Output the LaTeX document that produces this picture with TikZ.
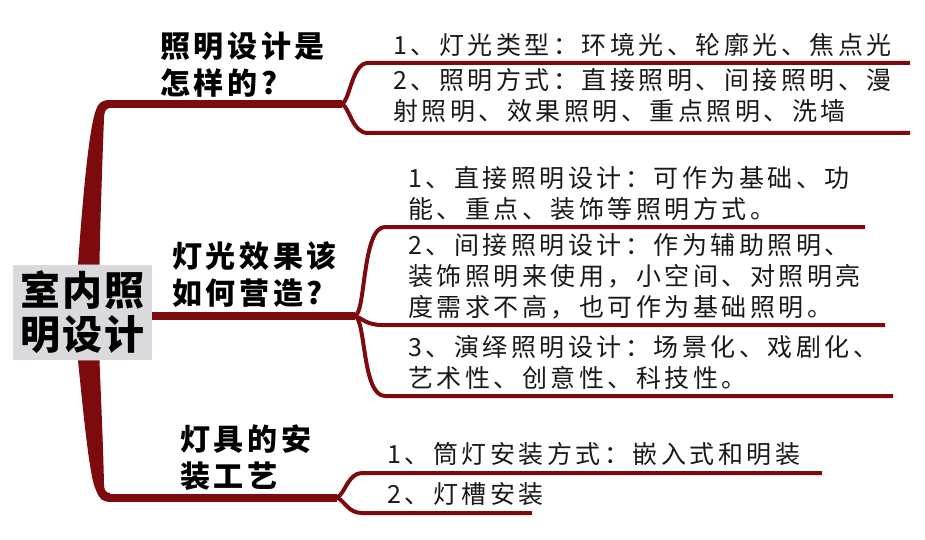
\documentclass[tikz,border=0pt]{standalone}
\usepackage{fontspec}
\setmainfont{Noto Sans CJK SC}
\newfontfamily\leaffont[LetterSpace=14]{Noto Sans CJK SC}
\newfontfamily\branchfont[LetterSpace=12]{Noto Sans CJK SC}
\newfontfamily\rootfont[LetterSpace=5]{Noto Sans CJK SC}
\definecolor{branchred}{RGB}{125,10,12}
\definecolor{rootgray}{RGB}{217,217,222}

\begin{document}
\begin{tikzpicture}[x=1pt,y=-1pt,thick,
  root node/.style={fill=rootgray,inner sep=0pt,minimum width=139pt,minimum height=95pt,align=center,font=\rootfont\bfseries\fontsize{40}{44}\selectfont},
  branch node/.style={anchor=base west,inner sep=0pt,align=left,font=\branchfont\bfseries\fontsize{30}{37}\selectfont},
  leaf node/.style={anchor=base west,inner sep=0pt,align=left,text=black!90,font=\leaffont\fontsize{25}{31}\selectfont},
  main line/.style={draw=branchred,line width=8pt},
  leaf line/.style={draw=branchred,line width=4pt}]

                \useasboundingbox (0,0) rectangle (925,540);

                \node[root node] (root) at (82.5,312.5) {室内照\\明设计};

                % multi-line nodes sit on their last baseline
                \node[branch node] (b1) at (160,95) {照明设计是\\怎样的?};
                \node[branch node] (b2) at (172,304) {灯光效果该\\如何营造?};
                \node[branch node] (b3) at (180,487) {灯具的安\\装工艺};

                \node[leaf node] (l11) at (393,55) {1、灯光类型：环境光、轮廓光、焦点光};
                \node[leaf node] (l12) at (393,121) {2、照明方式：直接照明、间接照明、漫\\射照明、效果照明、重点照明、洗墙};
                \node[leaf node] (l21) at (408,218) {1、直接照明设计：可作为基础、功\\能、重点、装饰等照明方式。};
                \node[leaf node] (l22) at (408,316) {2、间接照明设计：作为辅助照明、\\装饰照明来使用，小空间、对照明亮\\度需求不高，也可作为基础照明。};
                \node[leaf node] (l23) at (408,387) {3、演绎照明设计：场景化、戏剧化、\\艺术性、创意性、科技性。};
                \node[leaf node] (l31) at (387,463) {1、筒灯安装方式：嵌入式和明装};
                \node[leaf node] (l32) at (387,503) {2、灯槽安装};

                \coordinate (c1) at (108,104);
                \coordinate (c3) at (108,497.5);
                \coordinate (f1) at (342,104);
                \coordinate (f2) at (355,316);
                \coordinate (f3) at (337,497.5);
                \coordinate (e11) at (910,63);
                \coordinate (e12) at (910,133);
                \coordinate (e21) at (865,227);
                \coordinate (e22) at (885,325);
                \coordinate (e23) at (893,396);
                \coordinate (e31) at (822,473);
                \coordinate (e32) at (532,513);

                % trunk
                \fill[branchred] ([xshift=-4.5pt]root.north) .. controls (84,180) and (90,125) .. (96,110)
                    .. controls (98,103) and (102,100) .. (110,100) -- (110,108)
                    .. controls (106,108) and (104,112) .. (104,118)
                    .. controls (102,170) and (100,230) .. ([xshift=17pt]root.north) -- cycle;
                \fill[branchred] ([xshift=-4.5pt]root.south) .. controls (84,420) and (90,480) .. (96,490)
                    .. controls (99,499) and (103,502) .. (110,502) -- (110,493)
                    .. controls (106,493) and (104,490) .. (104,484)
                    .. controls (103,440) and (101,400) .. ([xshift=17pt]root.south) -- cycle;

                \draw[main line] (c1) -- (f1);
                \draw[main line] (root.east |- f2) -- (f2);
                \draw[main line] (c3) -- (f3);

                \draw[leaf line] (f1) .. controls (350,100) and (352,63) .. (368,63) -- (e11);
                \draw[leaf line] (f1) .. controls (350,108) and (352,133) .. (368,133) -- (e12);
                \draw[leaf line] (f2) .. controls (366,312) and (362,227) .. (385,227) -- (e21);
                \draw[leaf line] (f2) .. controls (362,318) and (366,325) .. (382,325) -- (e22);
                \draw[leaf line] (f2) .. controls (366,320) and (362,396) .. (385,396) -- (e23);
                \draw[leaf line] (f3) .. controls (345,494) and (348,473) .. (362,473) -- (e31);
                \draw[leaf line] (f3) .. controls (345,501) and (348,513) .. (362,513) -- (e32);

                ;
            \end{tikzpicture}
\end{document}
